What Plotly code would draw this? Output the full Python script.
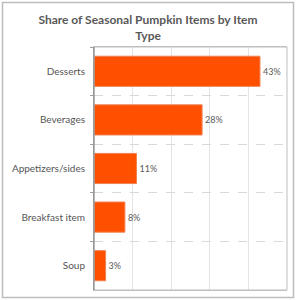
import plotly.graph_objects as go

categories = ["Desserts", "Beverages", "Appetizers/sides", "Breakfast item", "Soup"]
values = [43, 28, 11, 8, 3]
labels = ["43%", "28%", "11%", "8%", "3%"]

W, H = 296, 300
PL, PR, PT, PB = 94, 287, 47, 290  # plot area in pixels

fig = go.Figure(go.Bar(
    y=categories, x=values, orientation="h",
    text=labels, textposition="outside", cliponaxis=False,
    marker=dict(color="#FF5000", line=dict(color="#F08050", width=1)),
    textfont=dict(family="Lato", size=9, color="#595959"),
    width=0.62,
))

fig.update_layout(
    width=W, height=H,
    margin=dict(l=0, r=0, t=0, b=0, autoexpand=False),
    paper_bgcolor="white", plot_bgcolor="white",
    showlegend=False,
    title=dict(
        text="<b>Share of Seasonal Pumpkin Items by Item<br>Type</b>",
        x=0.5, xref="container", xanchor="center",
        y=1 - 24 / H, yref="container", yanchor="middle",
        font=dict(family="Lato", size=12, color="#595959"),
    ),
    xaxis=dict(
        domain=[PL / W, PR / W],
        range=[0, 50], dtick=10, showticklabels=False,
        showgrid=True, gridcolor="#E3E3E3", gridwidth=1,
        zeroline=False, showline=True, linecolor="#BFBFBF", mirror=True,
        ticks="", automargin=False,
    ),
    yaxis=dict(
        domain=[1 - PB / H, 1 - PT / H],
        autorange="reversed", type="category",
        tickson="boundaries", ticks="outside", ticklen=3, tickcolor="#A0A0A0",
        ticklabelstandoff=6,
        showgrid=True, gridcolor="#D9D9D9", griddash="dash", gridwidth=1,
        showline=True, linecolor="#8C8C8C", linewidth=1, mirror=False,
        tickfont=dict(family="Lato", size=10, color="#555555"),
        automargin=False,
    ),
)

# plot-area frame
fig.add_shape(type="rect", xref="paper", yref="paper",
              x0=PL / W, x1=PR / W, y0=1 - PB / H, y1=1 - PT / H,
              line=dict(color="#BFBFBF", width=1), layer="above")
# left axis darker
fig.add_shape(type="line", xref="paper", yref="paper",
              x0=PL / W, x1=PL / W, y0=1 - PB / H, y1=1 - PT / H,
              line=dict(color="#8C8C8C", width=1), layer="above")
# outer frame around the whole chart
fig.add_shape(type="rect", xref="paper", yref="paper",
              x0=2.5 / W, x1=293.5 / W, y0=1 - 297.5 / H, y1=1 - 2.5 / H,
              line=dict(color="#BDBDBD", width=1.5))

fig.write_html("out.html")
